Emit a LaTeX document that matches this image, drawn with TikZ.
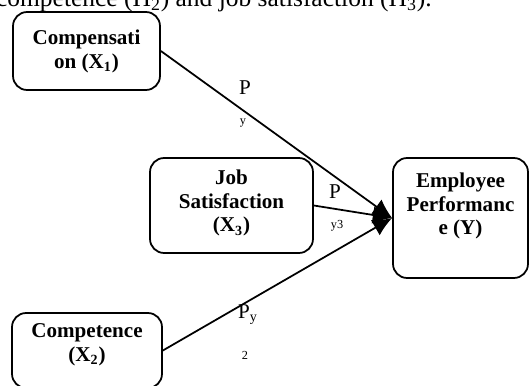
\documentclass[tikz,border=0pt]{standalone}
\usepackage{fontspec}
\setmainfont{Liberation Serif}
\usetikzlibrary{arrows.meta}
\tikzset{
    var/.style = {
        draw,
        rounded corners=8pt,
        line width=1pt,
        },
    var text/.style = {
        font=\fontsize{12}{13.6}\selectfont\bfseries,
        align=center,
        },
    link/.style = {
        line width=1pt,
        -{Latex[length=11pt,width=10pt]},
        },
    weight/.style = {
        font=\fontsize{12}{14}\selectfont,
        inner sep=0pt,
        },
    weight small/.style = {
        font=\fontsize{7}{8}\selectfont,
        inner sep=0pt,
        },
}
\begin{document}
\begin{tikzpicture}[x=0.02cm, y=-0.02cm]
    \useasboundingbox (0,0) rectangle (530,385);
    \clip (0,0) rectangle (530,385);

    % cut-off line of the text above
    \node[anchor=base east, inner sep=0pt, font=\fontsize{14.5}{16}\selectfont] (caption) at (432,7)
        {competence (H\textsubscript{2}) and job satisfaction (H\textsubscript{3}).};

    \node[var, minimum width=2.94cm, minimum height=1.56cm,
        label={[var text]center:Compensati\\on (X\textsubscript{1})}] (comp) at (86.5,51) {};
    \node[var, minimum width=3.26cm, minimum height=1.9cm,
        label={[var text, yshift=0.05cm]center:Job\\Satisfaction\\(X\textsubscript{3})}] (js) at (231.5,205.5) {};
    \node[var, minimum width=2.7cm, minimum height=2.4cm,
        label={[var text, yshift=0.24cm]center:Employee\\Performanc\\e (Y)}] (perf) at (460.5,218) {};
    \node[var, minimum width=3.0cm, minimum height=1.5cm,
        label={[var text, yshift=0.12cm]center:Competence\\(X\textsubscript{2})}] (compt) at (87,350.5) {};

    \draw[link] (comp.east) -- (perf.west);
    \draw[link] (js.east) -- (perf.west);
    \draw[link] (compt.east) -- (perf.west);

    % path labels
    \node[weight] (p1) at (245,88) {P};
    \node[weight small] (p1 sub) at (243,123) {y};
    \node[weight] (p3) at (335,192) {P};
    \node[weight small] (p3 sub) at (337,226) {y3};
    \node[weight] (p2) at (248,315) {P\textsubscript{y}};
    \node[weight small] (p2 sub) at (245,355) {2};
\end{tikzpicture}
\end{document}
